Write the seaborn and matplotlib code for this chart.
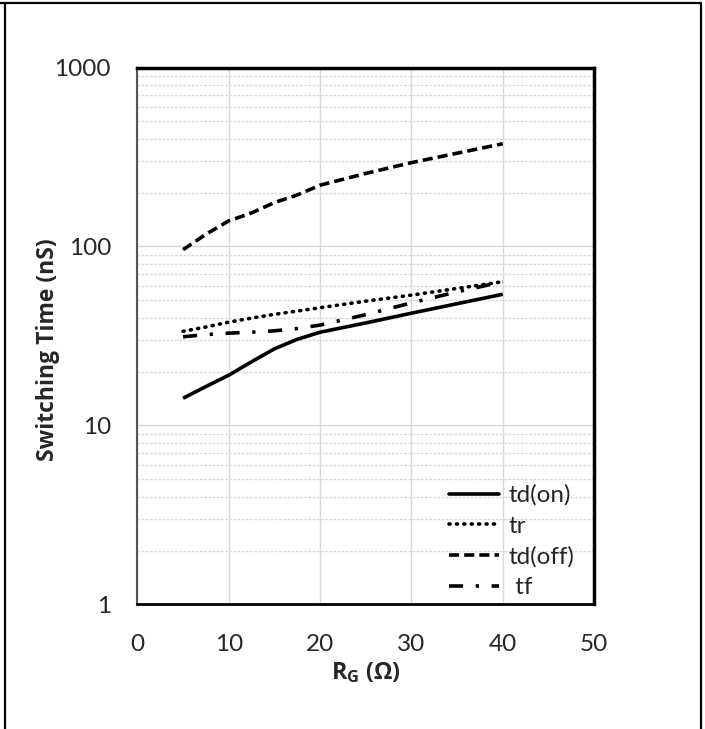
import matplotlib
matplotlib.use("Agg")
import matplotlib.pyplot as plt
import matplotlib.lines as mlines
import seaborn as sns
import pandas as pd
import numpy as np

# ---- data ----
rg = [5, 7.5, 10, 12.5, 15, 17.5, 20, 25, 30, 35, 40]
td_on = [14.2, 16.5, 19.1, 22.7, 26.8, 30.3, 33.2, 37.4, 42.4, 47.9, 54.1]
tr = [33.6, 35.5, 37.8, 39.8, 41.8, 43.6, 45.5, 49.5, 53.5, 58.3, 63.6]
td_off = [96, 117, 139, 154, 176, 194, 220, 256, 294, 332, 375]
tf = [31.3, 32.2, 32.8, 33.2, 33.8, 34.8, 36.4, 41.6, 48.4, 55.8, 63.5]
series_names = ["td(on)", "tr", "td(off)", "tf"]
legend_labels = ["td(on)", "tr", "td(off)", " tf"]
x_ticks = [0, 10, 20, 30, 40, 50]
y_ticks = [1, 10, 100, 1000]

df = pd.DataFrame({
    "RG": rg * 4,
    "t": td_on + tr + td_off + tf,
    "series": sum([[n] * len(rg) for n in series_names], []),
})

sns.set_theme(style="white")
plt.rcParams["font.family"] = ["Lato", "DejaVu Sans"]

FS = 17.5
LW = 2.6
fig = plt.figure(figsize=(7.05, 7.29), dpi=100)
ax = fig.add_axes([0.1949, 0.1708, 0.6477, 0.7366])

dash_map = {
    "td(on)": "",
    "tr": (0.3, 1.75),
    "td(off)": (2.8, 1.4),
    "tf": (3.9, 3.5, 0.9, 3.5),
}
sns.lineplot(data=df, x="RG", y="t", hue="series", style="series",
             palette=["black"] * 4, dashes=dash_map, linewidth=LW,
             ax=ax, legend=False, estimator=None, sort=False)
lines = ax.get_lines()
for i, l in enumerate(lines):
    l.set_dash_capstyle("round" if i == 1 else "butt")
    l.set_solid_capstyle("butt")

ax.set_yscale("log")
ax.set_xlim(0, 50)
ax.set_ylim(1, 1000)
ax.set_xticks(x_ticks)
ax.set_xticklabels([str(v) for v in x_ticks])
ax.set_yticks(y_ticks)
ax.set_yticklabels([str(v) for v in y_ticks])
ax.yaxis.set_minor_locator(matplotlib.ticker.LogLocator(base=10, subs=np.arange(2, 10)))
ax.yaxis.set_minor_formatter(matplotlib.ticker.NullFormatter())
ax.tick_params(axis="both", which="both", length=0, labelsize=FS, colors="#262626")
ax.tick_params(axis="x", pad=21)
ax.tick_params(axis="y", pad=19)

ax.grid(True, axis="x", which="major", color="#d9d9d9", linewidth=1.0, linestyle="-")
ax.grid(True, axis="y", which="major", color="#d9d9d9", linewidth=1.0, linestyle="-")
ax.grid(True, axis="y", which="minor", color="#d9d9d9", linewidth=1.0, linestyle=(0, (2, 1)))
ax.set_axisbelow(True)

for s in ax.spines.values():
    s.set_visible(True)
    s.set_color("black")
ax.spines["left"].set_linewidth(1.5)
ax.spines["left"].set_color("#555555")
ax.spines["bottom"].set_linewidth(2.0)
ax.spines["top"].set_linewidth(2.5)
ax.spines["right"].set_linewidth(2.5)

LBL_FONT = ["Open Sans", "DejaVu Sans"]
ax.set_xlabel("R$_\\mathregular{G}$ (Ω)", fontsize=16.8, fontweight="bold", labelpad=4,
              color="#262626", family=LBL_FONT)
ax.set_ylabel("Switching Time (nS)", fontsize=16.5, fontweight="bold", color="#262626",
              family=LBL_FONT)
ax.yaxis.set_label_coords(-0.17, 0.475)

handles = []
for i, n in enumerate(series_names):
    h = mlines.Line2D([], [], color="black", linewidth=LW)
    if dash_map[n]:
        h.set_dashes(dash_map[n])
    h.set_dash_capstyle("round" if i == 1 else "butt")
    handles.append(h)
leg = ax.legend(handles, legend_labels, loc="lower right",
                frameon=False, fontsize=FS, handlelength=2.06, handletextpad=0.41,
                labelspacing=0.39, borderaxespad=0.0, borderpad=0.0,
                bbox_to_anchor=(0.958, 0.012))
for t in leg.get_texts():
    t.set_color("#262626")

# outer frame lines
W, H = 705, 729
def fl(x0, y0, x1, y1):
    fig.add_artist(mlines.Line2D([x0 / W, x1 / W], [1 - y0 / H, 1 - y1 / H],
                                 color="black", linewidth=1.6, transform=fig.transFigure))
fl(0, 3, 701, 3)
fl(5, 3, 5, 729)
fl(700.5, 3, 700.5, 729)

fig.savefig("out.png", dpi=100)
